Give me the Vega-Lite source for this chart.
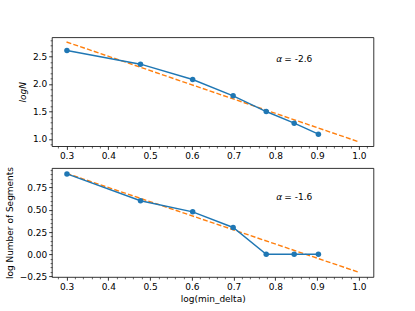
{
  "$schema": "https://vega.github.io/schema/vega-lite/v6.json",
  "autosize": {"type": "none"},
  "padding": {"left": 51.9, "top": 37.3, "right": 363.1, "bottom": 273.7},
  "background": "white",
  "bounds": "flush",
  "spacing": 21.8,
  "config": {
    "font": "DejaVu Sans",
    "view": {"stroke": "#000000", "strokeWidth": 0.8},
    "axis": {
      "grid": false,
      "domain": false,
      "tickColor": "#000000",
      "tickWidth": 0.8,
      "tickSize": 3.2,
      "labelColor": "#000000",
      "labelFont": "DejaVu Sans",
      "labelFontSize": 9,
      "labelPadding": 2,
      "titleColor": "#000000",
      "titleFont": "DejaVu Sans",
      "titleFontSize": 9,
      "titleFontWeight": "normal"
    }
  },
  "datasets": {
    "top": [
      {"x": 0.30103, "y": 2.609},
      {"x": 0.47712, "y": 2.360},
      {"x": 0.60206, "y": 2.081},
      {"x": 0.69897, "y": 1.784},
      {"x": 0.77815, "y": 1.498},
      {"x": 0.84510, "y": 1.285},
      {"x": 0.90309, "y": 1.085}
    ],
    "topfit": [
      {"x": 0.3, "y": 2.765},
      {"x": 1.0, "y": 0.945}
    ],
    "bot": [
      {"x": 0.30103, "y": 0.90309},
      {"x": 0.47712, "y": 0.60206},
      {"x": 0.60206, "y": 0.47712},
      {"x": 0.69897, "y": 0.30103},
      {"x": 0.77815, "y": 0.0},
      {"x": 0.84510, "y": 0.0},
      {"x": 0.90309, "y": 0.0}
    ],
    "botfit": [
      {"x": 0.3, "y": 0.91},
      {"x": 1.0, "y": -0.203}
    ],
    "topnote": [
      {"x": 0.8024, "y": 2.458, "sym": "α", "rest": "= -2.6"}
    ],
    "botnote": [
      {"x": 0.8024, "y": 0.648, "sym": "α", "rest": "= -1.6"}
    ]
  },
  "vconcat": [
    {
      "width": 321.6,
      "height": 108.9,
      "resolve": {"axis": {"x": "independent", "y": "independent"}},
      "layer": [
        {
          "data": {"name": "topfit"},
          "mark": {"type": "line", "color": "#ff7f0e", "strokeWidth": 1.4, "strokeDash": [5, 2.2]},
          "encoding": {
            "x": {"field": "x", "type": "quantitative", "scale": {"domain": [0.265, 1.035], "nice": false, "zero": false},
                  "axis": {"orient": "bottom", "values": [0.3, 0.4, 0.5, 0.6, 0.7, 0.8, 0.9, 1.0], "format": ".1f", "title": null}},
            "y": {"field": "y", "type": "quantitative", "scale": {"domain": [0.866, 2.85], "nice": false, "zero": false},
                  "axis": {"orient": "left", "values": [1.0, 1.5, 2.0, 2.5], "format": ".1f", "title": "logN", "titleFontStyle": "italic", "titlePadding": 5}}
          }
        },
        {
          "data": {"name": "top"},
          "mark": {"type": "line", "color": "#1f77b4", "strokeWidth": 1.4},
          "encoding": {
            "x": {"field": "x", "type": "quantitative",
                  "axis": {"orient": "bottom", "values": [0.28, 0.32, 0.34, 0.36, 0.38, 0.42, 0.44, 0.46, 0.48, 0.52, 0.54, 0.56, 0.58, 0.62, 0.64, 0.66, 0.68, 0.72, 0.74, 0.76, 0.78, 0.82, 0.84, 0.86, 0.88, 0.92, 0.94, 0.96, 0.98, 1.02], "labels": false, "tickSize": 1.8, "tickWidth": 0.6, "title": null}},
            "y": {"field": "y", "type": "quantitative",
                  "axis": {"orient": "left", "values": [0.9, 1.1, 1.2, 1.3, 1.4, 1.6, 1.7, 1.8, 1.9, 2.1, 2.2, 2.3, 2.4, 2.6, 2.7, 2.8], "labels": false, "tickSize": 1.8, "tickWidth": 0.6, "title": null}}
          }
        },
        {
          "data": {"name": "top"},
          "mark": {"type": "circle", "color": "#1f77b4", "opacity": 1, "size": 30},
          "encoding": {
            "x": {"field": "x", "type": "quantitative", "axis": null},
            "y": {"field": "y", "type": "quantitative", "axis": null}
          }
        },
        {
          "data": {"name": "topnote"},
          "mark": {"type": "text", "align": "left", "baseline": "middle", "fontSize": 9, "fontStyle": "italic", "color": "#000000"},
          "encoding": {
            "x": {"field": "x", "type": "quantitative", "axis": null},
            "y": {"field": "y", "type": "quantitative", "axis": null},
            "text": {"field": "sym"}
          }
        },
        {
          "data": {"name": "topnote"},
          "mark": {"type": "text", "align": "left", "baseline": "middle", "fontSize": 9, "dx": 8, "color": "#000000"},
          "encoding": {
            "x": {"field": "x", "type": "quantitative", "axis": null},
            "y": {"field": "y", "type": "quantitative", "axis": null},
            "text": {"field": "rest"}
          }
        }
      ]
    },
    {
      "width": 321.6,
      "height": 108.9,
      "resolve": {"axis": {"x": "independent", "y": "independent"}},
      "layer": [
        {
          "data": {"name": "botfit"},
          "mark": {"type": "line", "color": "#ff7f0e", "strokeWidth": 1.4, "strokeDash": [5, 2.2]},
          "encoding": {
            "x": {"field": "x", "type": "quantitative", "scale": {"domain": [0.265, 1.035], "nice": false, "zero": false},
                  "axis": {"orient": "bottom", "values": [0.3, 0.4, 0.5, 0.6, 0.7, 0.8, 0.9, 1.0], "format": ".1f", "title": "log(min_delta)", "titlePadding": 3}},
            "y": {"field": "y", "type": "quantitative", "scale": {"domain": [-0.256, 0.969], "nice": false, "zero": false},
                  "axis": {"orient": "left", "values": [-0.25, 0.0, 0.25, 0.5, 0.75], "format": ".2f", "title": "log Number of Segments", "titlePadding": 5}}
          }
        },
        {
          "data": {"name": "bot"},
          "mark": {"type": "line", "color": "#1f77b4", "strokeWidth": 1.4},
          "encoding": {
            "x": {"field": "x", "type": "quantitative",
                  "axis": {"orient": "bottom", "values": [0.28, 0.32, 0.34, 0.36, 0.38, 0.42, 0.44, 0.46, 0.48, 0.52, 0.54, 0.56, 0.58, 0.62, 0.64, 0.66, 0.68, 0.72, 0.74, 0.76, 0.78, 0.82, 0.84, 0.86, 0.88, 0.92, 0.94, 0.96, 0.98, 1.02], "labels": false, "tickSize": 1.8, "tickWidth": 0.6, "title": null}},
            "y": {"field": "y", "type": "quantitative",
                  "axis": {"orient": "left", "values": [-0.2, -0.15, -0.1, -0.05, 0.05, 0.1, 0.15, 0.2, 0.3, 0.35, 0.4, 0.45, 0.55, 0.6, 0.65, 0.7, 0.8, 0.85, 0.9, 0.95], "labels": false, "tickSize": 1.8, "tickWidth": 0.6, "title": null}}
          }
        },
        {
          "data": {"name": "bot"},
          "mark": {"type": "circle", "color": "#1f77b4", "opacity": 1, "size": 30},
          "encoding": {
            "x": {"field": "x", "type": "quantitative", "axis": null},
            "y": {"field": "y", "type": "quantitative", "axis": null}
          }
        },
        {
          "data": {"name": "botnote"},
          "mark": {"type": "text", "align": "left", "baseline": "middle", "fontSize": 9, "fontStyle": "italic", "color": "#000000"},
          "encoding": {
            "x": {"field": "x", "type": "quantitative", "axis": null},
            "y": {"field": "y", "type": "quantitative", "axis": null},
            "text": {"field": "sym"}
          }
        },
        {
          "data": {"name": "botnote"},
          "mark": {"type": "text", "align": "left", "baseline": "middle", "fontSize": 9, "dx": 8, "color": "#000000"},
          "encoding": {
            "x": {"field": "x", "type": "quantitative", "axis": null},
            "y": {"field": "y", "type": "quantitative", "axis": null},
            "text": {"field": "rest"}
          }
        }
      ]
    }
  ]
}
